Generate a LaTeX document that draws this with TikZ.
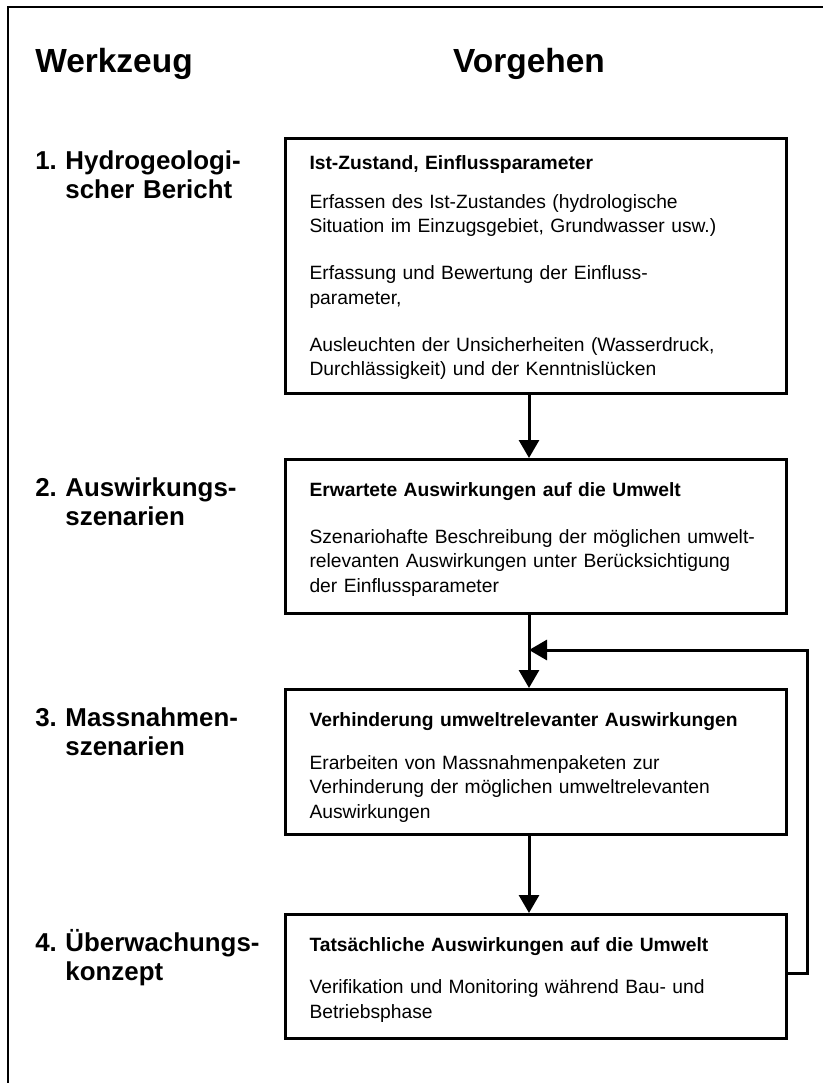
\documentclass[tikz,border=0pt]{standalone}
\usepackage{fontspec}
\setmainfont{Liberation Sans}
\usetikzlibrary{arrows.meta}
\tikzset{%
  >={Triangle[width=5mm,length=4.5mm]},
  % Specifications for style of nodes:
         titel/.style = {inner sep=0pt, font=\fontsize{23.8}{28}\selectfont\bfseries},
      werkzeug/.style = {inner sep=0pt, align=left, text width=60mm,
                         font=\fontsize{18.4}{20.6}\selectfont\bfseries},
         stufe/.style = {rectangle, draw=black, line width=0.75mm,
                         anchor=north west, text width=113.25mm,
                         inner xsep=6mm, inner ysep=0pt, align=left,
                         font=\fontsize{13.7}{17.4}\selectfont},
      pfeil/.style = {->, line width=0.75mm},
}

\begin{document}
\begin{tikzpicture}[x=0.25mm, y=-0.25mm]
  \useasboundingbox (0,0) rectangle (823,1083);
  % frame (only top and left side)
  \draw[line width=0.5mm] (8,1083) -- (8,7.5) -- (823,7.5);

  % Specification of nodes (position, etc.)
  \node (werk)    [titel, anchor=base west] at (35,73) {Werkzeug};
  \node (vorg)    [titel, anchor=base] at (529,73) {Vorgehen};
  \coordinate (achse) at (529,0);

  \node (zustand) [stufe, text height=7.75mm, text depth=56mm] at (284,137)
    {\textbf{Ist-Zustand, Einflussparameter}\\[3.6mm]
     Erfassen des Ist-Zustandes (hydrologische\\
     Situation im Einzugsgebiet, Grundwasser usw.)\\[5.6mm]
     Erfassung und Bewertung der Einfluss-\\
     parameter,\\[5.6mm]
     Ausleuchten der Unsicherheiten (Wasserdruck,\\
     Durchlässigkeit) und der Kenntnislücken};
  \node (ausw)    [stufe, text height=9.25mm, text depth=29.25mm] at (284,458)
    {\textbf{Erwartete Auswirkungen auf die Umwelt}\\[5.6mm]
     Szenariohafte Beschreibung der möglichen umwelt-\\
     relevanten Auswirkungen unter Berücksichtigung\\
     der Einflussparameter};
  \node (massn)   [stufe, text height=9.25mm, text depth=27mm] at (284,688)
    {\textbf{Verhinderung umweltrelevanter Auswirkungen}\\[4.6mm]
     Erarbeiten von Massnahmenpaketen zur\\
     Verhinderung der möglichen umweltrelevanten\\
     Auswirkungen};
  \node (ueberw)  [stufe, text height=9.25mm, text depth=21.75mm] at (284,913)
    {\textbf{Tatsächliche Auswirkungen auf die Umwelt}\\[4.4mm]
     Verifikation und Monitoring während Bau- und\\
     Betriebsphase};

  \node (bericht) [werkzeug, anchor=base west] at (zustand.base -| werk.west)
    {1.~Hydrogeologi-\\\hphantom{1.~}scher Bericht};
  \node (szen)    [werkzeug, anchor=base west] at (ausw.base -| werk.west)
    {2.~Auswirkungs-\\\hphantom{2.~}szenarien};
  \node (mszen)   [werkzeug, anchor=base west] at (massn.base -| werk.west)
    {3.~Massnahmen-\\\hphantom{3.~}szenarien};
  \node (konzept) [werkzeug, anchor=base west] at (ueberw.base -| werk.west)
    {4.~Überwachungs-\\\hphantom{4.~}konzept};

  \coordinate (rueck)     at (807,973);
  \coordinate (rueckoben) at (807,650);

  \draw[pfeil] (zustand.south -| achse) -- (ausw.north -| achse);
  \draw[pfeil] (ausw.south -| achse) -- (massn.north -| achse);
  \draw[pfeil] (massn.south -| achse) -- (ueberw.north -| achse);
  \draw[pfeil] (ueberw.east |- rueck) -- (rueck) -- (rueckoben) -- (achse |- rueckoben);
\end{tikzpicture}
\end{document}
